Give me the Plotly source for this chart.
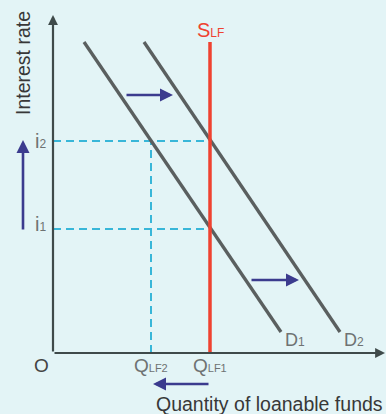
import plotly.graph_objects as go

# chart units: quantity on x, interest rate on y
supply_q = [15.7, 15.7]
supply_r = [0.0, 31.1]
d1_q = [3.1, 22.8]
d1_r = [31.1, 2.1]
d2_q = [9.1, 28.7]
d2_r = [31.1, 2.1]
rates = {"i2": 21.2, "i1": 12.4}
quantities = {"QLF2": 9.8, "QLF1": 15.7}
x_max, y_max = 33.2, 33.8

BG = "#e3f4f6"
AXIS = "#3f4a4a"
GREY = "#5a5f5f"
RED = "#ef4230"
CYAN = "#38b6d8"
ARROW = "#3b3b8e"
LABEL = "#6e7272"
DARK = "#383838"
FONT = "Liberation Sans"

fig = go.Figure()

# dashed guides
q2, q1 = quantities["QLF2"], quantities["QLF1"]
for r in rates.values():
    fig.add_trace(go.Scatter(x=[0, q1], y=[r, r], mode="lines",
                             line=dict(color=CYAN, width=2, dash="8px,5px")))
fig.add_trace(go.Scatter(x=[q2, q2], y=[0, rates["i2"]], mode="lines",
                         line=dict(color=CYAN, width=2, dash="8px,5px")))

# demand curves
fig.add_trace(go.Scatter(x=d1_q, y=d1_r, mode="lines", line=dict(color=GREY, width=3.3)))
fig.add_trace(go.Scatter(x=d2_q, y=d2_r, mode="lines", line=dict(color=GREY, width=3.3)))
# supply
fig.add_trace(go.Scatter(x=supply_q, y=supply_r, mode="lines", line=dict(color=RED, width=3.5)))


def arrow(x0, y0, x1, y1, color, width, size=1.0, head=2):
    fig.add_annotation(x=x1, y=y1, ax=x0, ay=y0, xref="x", yref="y", axref="x", ayref="y",
                       showarrow=True, arrowhead=head, arrowsize=size, arrowwidth=width,
                       arrowcolor=color, text="")


# axes
arrow(0, 0, 0, y_max, AXIS, 2.2, 0.9, 2)
arrow(0, 0, x_max, 0, AXIS, 2.2, 0.9, 2)

# shift arrows
arrow(7.2, 25.8, 12.0, 25.8, ARROW, 2.6, 1.0, 2)
arrow(19.7, 7.3, 24.6, 7.3, ARROW, 2.6, 1.0, 2)
arrow(-3.0, rates["i1"] - 0.2, -3.0, rates["i2"] + 0.1, ARROW, 2.6, 1.0, 2)
arrow(q1, -3.1, q2 + 0.2, -3.1, ARROW, 2.6, 1.0, 2)


def sub(main, small, size=11):
    return f"{main}<span style='font-size:{size}px'>{small}</span>"


def label(x, y, text, color=LABEL, size=19, **kw):
    fig.add_annotation(x=x, y=y, xref="x", yref="y", text=text, showarrow=False,
                       font=dict(family=FONT, size=size, color=color), **kw)


label(-0.5, rates["i2"], sub("i", "2", 12), xanchor="right", size=20)
label(-0.5, rates["i1"] + 0.5, sub("i", "1", 12), xanchor="right", size=20)
label(-1.2, -1.2, "O", color="#444")
label(q2, -1.2, sub("Q", "LF2"))
label(q1, -1.2, sub("Q", "LF1"))
label(supply_q[0], supply_r[1] + 1.2, sub("S", "LF", 12), color=RED, size=20)
label(d1_q[1] + 0.2, d1_r[1] - 0.8, sub("D", "1", 12), xanchor="left", size=18)
label(d2_q[1] + 0.2, d2_r[1] - 0.8, sub("D", "2", 12), xanchor="left", size=18)

fig.add_annotation(x=-3.0, y=34.4, xref="x", yref="y", text="Interest rate",
                   showarrow=False, textangle=-90, xanchor="center", yanchor="top",
                   font=dict(family=FONT, size=19.5, color=DARK))
fig.add_annotation(x=x_max, y=-3.75, xref="x", yref="y", text="Quantity of loanable funds",
                   showarrow=False, xanchor="right", yanchor="top",
                   font=dict(family=FONT, size=19.5, color=DARK))

fig.update_layout(
    width=386, height=414,
    margin=dict(l=0, r=0, t=0, b=0),
    paper_bgcolor=BG, plot_bgcolor=BG,
    showlegend=False,
    xaxis=dict(range=[-5.3, 33.3], visible=False, fixedrange=True),
    yaxis=dict(range=[-6.1, 35.3], visible=False, fixedrange=True),
)

fig.write_html("out.html", config={"displayModeBar": False},
               post_script="document.body.style.margin='0';")
